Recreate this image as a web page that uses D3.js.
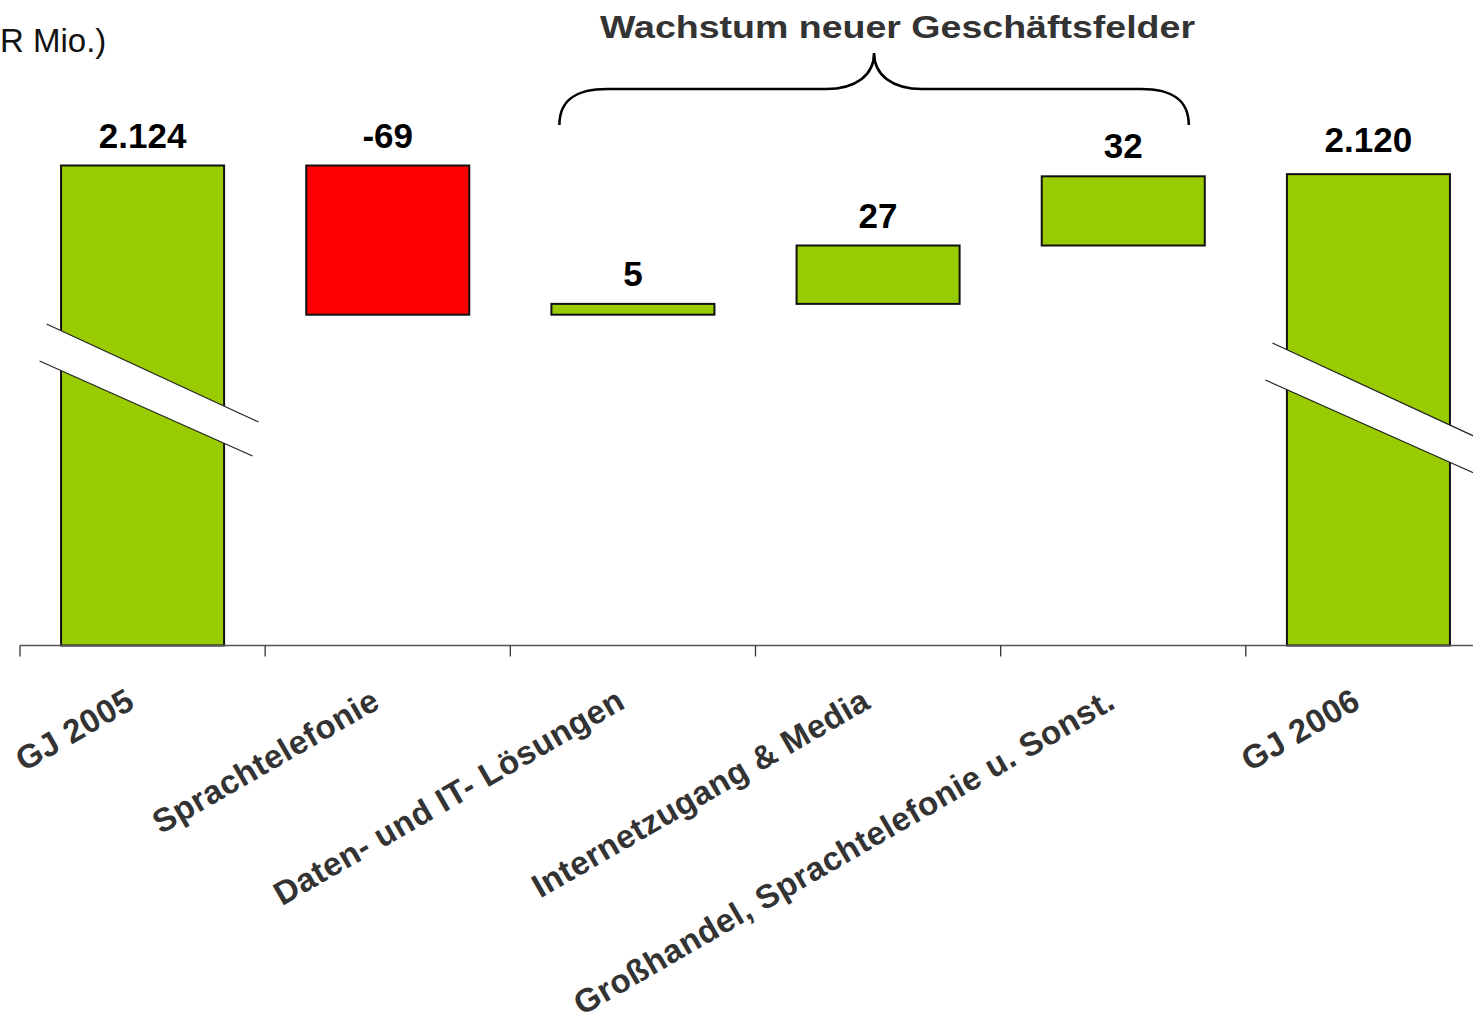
<html>

<head>
    <meta charset="utf-8">
    <title>Wachstum neuer Geschäftsfelder</title>
    <script src="https://d3js.org/d3.v7.min.js"></script>
    <style>
        body { margin: 0; background: #fff; overflow: hidden; }
        text { font-family: "Liberation Sans", Arial, sans-serif; }
    </style>
</head>

<body>
    <div id="myPlot"></div>
    <script>
        // data (EUR Mio.)
        var categories = ["GJ 2005", "Sprachtelefonie", "Daten- und IT- Lösungen",
            "Internetzugang & Media", "Großhandel, Sprachtelefonie u. Sonst.", "GJ 2006"];
        var values = [2124, -69, 5, 27, 32, 2120];
        var kinds = ["total", "delta", "delta", "delta", "delta", "total"];
        var valueLabels = ["2.124", "-69", "5", "27", "32", "2.120"];
        var unitLabel = "R Mio.)"; // the slide cuts the unit text at its left edge
        var braceLabel = "Wachstum neuer Geschäftsfelder";

        var width = 1473, height = 1021;

        var svg = d3.select("#myPlot").append("svg")
            .attr("width", width)
            .attr("height", height);

        // build waterfall rows
        var running = 0;
        var rows = categories.map(function (c, i) {
            var v = values[i], lo, hi;
            if (kinds[i] == "total") {
                lo = null; hi = v; running = v;
            } else {
                lo = Math.min(running, running + v);
                hi = Math.max(running, running + v);
                running = running + v;
            }
            return { name: c, value: v, kind: kinds[i], lo: lo, hi: hi, label: valueLabels[i] };
        });

        var xScale = d3.scaleBand()
            .domain(categories)
            .range([20, 1491])
            .paddingInner(0.335)
            .paddingOuter(0.1675);

        // broken axis: only the top of the range is shown
        var yScale = d3.scaleLinear()
            .domain([1902, 2124])
            .range([645.5, 165.5]);

        var y0 = yScale.range()[0];

        // bars
        svg.selectAll("rect.bar")
            .data(rows)
            .enter()
            .append("rect")
            .attr("class", "bar")
            .attr("x", function (d) { return xScale(d.name); })
            .attr("width", xScale.bandwidth())
            .attr("y", function (d) { return yScale(d.hi); })
            .attr("height", function (d) {
                return (d.lo == null ? y0 : yScale(d.lo)) - yScale(d.hi);
            })
            .attr("fill", function (d) { return d.value < 0 ? "#ff0000" : "#99cc00"; })
            .attr("stroke", "#111")
            .attr("stroke-width", 2);

        // value labels
        svg.selectAll("text.val")
            .data(rows)
            .enter()
            .append("text")
            .attr("class", "val")
            .attr("x", function (d) { return xScale(d.name) + xScale.bandwidth() / 2; })
            .attr("y", function (d) { return yScale(d.hi) - (d.kind == "total" && d.name != categories[0] ? 22 : 18); })
            .attr("text-anchor", "middle")
            .style("font-size", "35px")
            .style("font-weight", "bold")
            .style("fill", "#000")
            .text(function (d) { return d.label; });

        // axis break marks on the total bars
        var step = xScale.step();
        var breaks = svg.selectAll("g.brk")
            .data(rows.filter(function (d) { return d.kind == "total"; }))
            .enter()
            .append("g")
            .attr("class", "brk")
            .attr("transform", function (d, i) {
                var cx = xScale(d.name) + xScale.bandwidth() / 2;
                return "translate(" + cx + "," + (i == 0 ? 0 : 19) + ")";
            });
        breaks.append("path")
            .attr("d", "M-96,324 L116,422 L110,456 L-103,361 Z")
            .attr("fill", "#fff");
        breaks.append("path")
            .attr("d", "M-96,324 L116,422 M-103,361 L110,456")
            .attr("stroke", "#222")
            .attr("stroke-width", 1.2)
            .attr("fill", "none");

        // x axis line and ticks at the category boundaries
        svg.append("line")
            .attr("x1", 20).attr("x2", width)
            .attr("y1", y0).attr("y2", y0)
            .attr("stroke", "#555")
            .attr("stroke-width", 1.3);

        svg.selectAll("line.tick")
            .data(d3.range(categories.length + 1))
            .enter()
            .append("line")
            .attr("class", "tick")
            .attr("x1", function (i) { return 20 + i * step; })
            .attr("x2", function (i) { return 20 + i * step; })
            .attr("y1", y0)
            .attr("y2", y0 + 11)
            .attr("stroke", "#333")
            .attr("stroke-width", 1.3);

        // rotated category labels
        svg.selectAll("text.cat")
            .data(categories)
            .enter()
            .append("text")
            .attr("class", "cat")
            .attr("text-anchor", "end")
            .attr("transform", function (d) {
                var cx = xScale(d) + xScale.bandwidth() / 2;
                return "translate(" + (cx - 6) + ",707) rotate(-30)";
            })
            .style("font-size", "33px")
            .style("font-weight", "bold")
            .style("letter-spacing", "0.5px")
            .style("fill", "#333")
            .text(function (d) { return d; });

        // brace over the growth segments
        var bl = xScale(categories[2]) + 8;
        var br = xScale(categories[4]) + xScale.bandwidth() - 16;
        var bm = (bl + br) / 2;
        var braceTop = 53, braceMid = 89, braceEnd = 125;
        var bracePath = d3.path();
        bracePath.moveTo(bl, braceEnd);
        bracePath.bezierCurveTo(bl, braceMid + 11, bl + 16, braceMid, bl + 48, braceMid);
        bracePath.lineTo(bm - 48, braceMid);
        bracePath.bezierCurveTo(bm - 18, braceMid, bm, braceMid - 14, bm, braceTop);
        bracePath.bezierCurveTo(bm, braceMid - 14, bm + 18, braceMid, bm + 48, braceMid);
        bracePath.lineTo(br - 48, braceMid);
        bracePath.bezierCurveTo(br - 16, braceMid, br, braceMid + 11, br, braceEnd);
        svg.append("path")
            .attr("d", bracePath.toString())
            .attr("fill", "none")
            .attr("stroke", "#000")
            .attr("stroke-width", 2.6);

        svg.append("text")
            .attr("x", 600)
            .attr("y", 38)
            .attr("textLength", 595)
            .attr("lengthAdjust", "spacingAndGlyphs")
            .style("font-size", "32px")
            .style("font-weight", "bold")
            .style("fill", "#333")
            .text(braceLabel);

        // unit label
        svg.append("text")
            .attr("x", 0)
            .attr("y", 52)
            .style("font-size", "33px")
            .style("fill", "#111")
            .text(unitLabel);
    </script>
</body>

</html>
